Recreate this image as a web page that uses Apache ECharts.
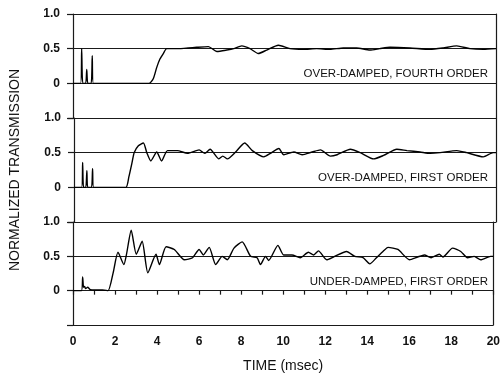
<!DOCTYPE html>
<html>
<head>
<meta charset="utf-8">
<script src="https://cdn.jsdelivr.net/npm/echarts@6/dist/echarts.min.js"></script>
<style>
html,body{margin:0;padding:0;background:#fff;}
#c{width:503px;height:374px;}
</style>
</head>
<body>
<div id="c"></div>
<script>
// ---- data (time in msec, normalized transmission) ----
var panelTitles = ['OVER-DAMPED, FOURTH ORDER', 'OVER-DAMPED, FIRST ORDER', 'UNDER-DAMPED, FIRST ORDER'];
var yTickLabels = ['', '0', '0.5', '1.0'];      // for -0.5, 0, 0.5, 1.0
var xTickLabels = ['0','2','4','6','8','10','12','14','16','18','20'];

var overDampedFourth = [[0,0],[0.36,0],[0.41,0.5],[0.46,0],[0.6,0],[0.65,0.2],[0.7,0],[0.86,0],[0.91,0.4],[0.96,0],[2,0],[3.6,0],[3.8,0.07],[3.96,0.23],[4.11,0.35],[4.27,0.43],[4.43,0.5],[4.7,0.5],[5.06,0.5],[5.45,0.51],[5.85,0.52],[6.4,0.53],[6.8,0.46],[7.27,0.48],[7.6,0.5],[7.98,0.54],[8.37,0.5],[8.76,0.43],[9.16,0.48],[9.71,0.55],[10.26,0.5],[10.89,0.49],[11.52,0.5],[12.15,0.49],[12.78,0.51],[13.41,0.51],[14.04,0.48],[14.5,0.5],[14.99,0.52],[15.93,0.51],[16.88,0.49],[17.5,0.51],[18.14,0.54],[18.77,0.5],[19.4,0.49],[20,0.5]];

var overDampedFirst = [[0,0],[0.36,0],[0.41,0.36],[0.45,0],[0.56,0],[0.61,0.24],[0.65,0],[0.83,0],[0.88,0.27],[0.93,0],[1.5,0],[2.46,0],[2.6,0.15],[2.76,0.37],[2.85,0.5],[3.05,0.6],[3.29,0.64],[3.45,0.5],[3.64,0.38],[3.92,0.51],[4.15,0.38],[4.43,0.53],[4.9,0.53],[5.38,0.49],[5.93,0.54],[6.2,0.49],[6.45,0.55],[6.87,0.41],[7.05,0.45],[7.27,0.41],[7.66,0.51],[8.09,0.64],[8.45,0.53],[9.0,0.44],[9.31,0.49],[9.71,0.56],[9.94,0.47],[10.42,0.51],[10.81,0.47],[11.29,0.51],[11.68,0.54],[12.15,0.45],[12.47,0.47],[13.1,0.55],[13.57,0.5],[14.2,0.41],[14.67,0.46],[15.3,0.55],[15.78,0.53],[16.4,0.51],[16.88,0.49],[17.35,0.5],[18.14,0.53],[18.61,0.5],[19.4,0.44],[19.87,0.5],[20,0.5]];

var underDampedFirst = [[0,0],[0.4,0],[0.46,0.2],[0.5,0.05],[0.55,0.06],[0.6,0.03],[0.7,0.05],[0.8,0.02],[1.0,0.01],[1.4,0.01],[1.67,0],[1.91,0.26],[2.14,0.56],[2.42,0.38],[2.54,0.52],[2.77,0.88],[3.01,0.53],[3.29,0.72],[3.56,0.26],[3.95,0.53],[4.11,0.38],[4.43,0.64],[4.82,0.6],[5.3,0.45],[5.69,0.48],[6.0,0.6],[6.2,0.52],[6.48,0.63],[6.79,0.38],[7.1,0.5],[7.34,0.45],[7.66,0.62],[8.05,0.71],[8.45,0.5],[8.76,0.48],[8.92,0.38],[9.16,0.5],[9.31,0.44],[9.75,0.66],[10.02,0.52],[10.42,0.52],[10.81,0.48],[11.2,0.56],[11.45,0.52],[11.68,0.58],[12.07,0.45],[12.39,0.49],[13.02,0.57],[13.41,0.5],[13.8,0.48],[14.12,0.39],[14.44,0.48],[14.75,0.57],[14.99,0.63],[15.46,0.6],[16.01,0.45],[16.4,0.49],[16.72,0.52],[17.04,0.48],[17.43,0.53],[17.6,0.49],[18.06,0.62],[18.45,0.57],[18.77,0.48],[19.09,0.5],[19.4,0.45],[19.87,0.5],[20,0.5]];

var panelData = [overDampedFourth, overDampedFirst, underDampedFirst];

// ---- chart ----
var FONT = '"Liberation Sans", Arial, Helvetica, sans-serif';
var gridTops = [14, 118, 222];
var grids = [], xAxes = [], yAxes = [], series = [], graphics = [];
var lineCol = '#1a1a1a';

for (var i = 0; i < 3; i++) {
  grids.push({left: 73, right: 7, top: gridTops[i], height: (i === 2 ? 105 : 104), containLabel: false});
  var isBottom = (i === 2);
  xAxes.push({
    type: 'value', gridIndex: i, min: 0, max: 20, interval: 1,
    show: true,
    axisLine: {show: isBottom, lineStyle: {color: lineCol, width: 1.2}},
    axisTick: {show: isBottom, inside: false, length: 4, lineStyle: {color: lineCol, width: 1.2}},
    splitLine: {show: false},
    axisLabel: {
      show: isBottom, margin: 11, color: '#111', fontFamily: FONT, fontSize: 12, fontWeight: 'bold',
      formatter: function (v) { return (Math.round(v) % 2 === 0) ? xTickLabels[Math.round(v) / 2] : ''; }
    },
    name: isBottom ? 'TIME (msec)' : '',
    nameLocation: 'middle', nameGap: 34,
    nameTextStyle: {color: '#111', fontFamily: FONT, fontSize: 14}
  });
  yAxes.push({
    type: 'value', gridIndex: i, min: -0.5, max: 1.0, interval: 0.5,
    axisLine: {show: true, lineStyle: {color: lineCol, width: 1.2}},
    axisTick: {show: true, length: 6, lineStyle: {color: lineCol, width: 1.2}},
    splitLine: {show: true, lineStyle: {color: lineCol, width: 1.1}},
    axisLabel: {
      margin: 13, color: '#111', fontFamily: FONT, fontSize: 12, fontWeight: 'bold',
      formatter: function (v) { return yTickLabels[Math.round((v + 0.5) * 2)]; }
    },
    name: i === 1 ? 'NORMALIZED TRANSMISSION' : '',
    nameLocation: 'middle', nameGap: 52, nameRotate: 90,
    nameTextStyle: {color: '#111', fontFamily: FONT, fontSize: 14}
  });
  yAxes.push({
    type: 'value', gridIndex: i, min: -0.5, max: 1.0, interval: 0.5, position: 'right',
    axisLine: {show: true, lineStyle: {color: lineCol, width: 1.2}},
    axisTick: {show: false}, axisLabel: {show: false}, splitLine: {show: false}
  });
  series.push({
    type: 'line', xAxisIndex: i, yAxisIndex: i * 2, data: panelData[i],
    showSymbol: false, smooth: 0.2, animation: false,
    lineStyle: {color: '#000', width: 1.4}
  });
  graphics.push({
    type: 'text', right: 15, top: gridTops[i] + 54,
    style: {text: panelTitles[i], fill: '#111', font: '11.5px ' + FONT}
  });
}

var chart = echarts.init(document.getElementById('c'), null, {renderer: 'canvas'});
chart.setOption({
  animation: false,
  backgroundColor: '#fff',
  grid: grids, xAxis: xAxes, yAxis: yAxes, series: series, graphic: graphics
});
</script>
</body>
</html>
